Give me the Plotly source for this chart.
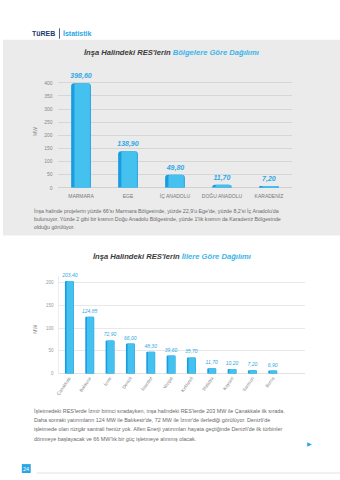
import plotly.graph_objects as go

# ---- data ----
regions = ["MARMARA", "EGE", "İÇ ANADOLU", "DOĞU ANADOLU", "KARADENİZ"]
region_mw = [398.60, 138.90, 49.80, 11.70, 7.20]
region_ticks = [0, 50, 100, 150, 200, 250, 300, 350, 400]

provinces = ["Çanakkale", "Balıkesir", "İzmir", "Denizli", "İstanbul", "Yozgat",
             "Kırklareli", "Malatya", "Kayseri", "Samsun", "Bursa"]
province_mw = [203.40, 124.85, 72.90, 66.00, 48.30, 39.60, 35.70, 11.70, 10.20, 7.20, 6.90]
province_ticks = [0, 50, 100, 150, 200]

W, H = 340, 480
def px(x): return x / W
def py(y): return 1 - y / H

FONT = "Liberation Sans"
BLUE_DARK = "#1a9de0"
BLUE_LIGHT = "#45c1f0"
LABEL_BLUE = "#2fa8e4"
GRAY_TXT = "#8a8a8a"

def fmt(v):
    return f"{v:.2f}".replace(".", ",")

fig = go.Figure()

# chart 1 bars (dark base + lighter face)
fig.add_trace(go.Bar(
    x=regions, y=region_mw, xaxis="x", yaxis="y",
    width=0.42, offset=-0.21,
    marker=dict(color=BLUE_DARK, cornerradius=3, line=dict(width=0)),
    text=[fmt(v) for v in region_mw], textposition="outside",
    texttemplate="<i><b>%{text}</b></i>", constraintext="none",
    textfont=dict(color=LABEL_BLUE, size=7, family=FONT),
    cliponaxis=False, showlegend=False, hoverinfo="skip"))
fig.add_trace(go.Bar(
    x=regions, y=region_mw, xaxis="x", yaxis="y",
    width=0.33, offset=-0.14,
    marker=dict(color=BLUE_LIGHT, cornerradius=2, line=dict(width=0)),
    showlegend=False, hoverinfo="skip"))

# chart 2 bars
fig.add_trace(go.Bar(
    x=provinces, y=province_mw, xaxis="x2", yaxis="y2",
    width=0.44, offset=-0.22,
    marker=dict(color=BLUE_DARK, cornerradius=1, line=dict(width=0)),
    text=[fmt(v) for v in province_mw], textposition="outside",
    texttemplate="<i>%{text}</i>", constraintext="none",
    textfont=dict(color=LABEL_BLUE, size=5, family=FONT),
    cliponaxis=False, showlegend=False, hoverinfo="skip"))
fig.add_trace(go.Bar(
    x=provinces, y=province_mw, xaxis="x2", yaxis="y2",
    width=0.34, offset=-0.14,
    marker=dict(color=BLUE_LIGHT, cornerradius=1, line=dict(width=0)),
    showlegend=False, hoverinfo="skip"))

fig.update_layout(
    width=W, height=H,
    margin=dict(l=0, r=0, t=0, b=0),
    paper_bgcolor="white", plot_bgcolor="rgba(0,0,0,0)",
    barmode="overlay",
    font=dict(family=FONT, color=GRAY_TXT, size=5),
    xaxis=dict(domain=[px(55), px(292)], anchor="y", showgrid=False,
               showline=False, ticks="", tickfont=dict(size=5, color="#777"),
               ticklabelstandoff=4, fixedrange=True),
    yaxis=dict(domain=[py(189), py(75.4)], anchor="x", range=[0, 430],
               tickvals=region_ticks, showgrid=True, gridcolor="#d6d6d6",
               gridwidth=0.6, zeroline=True, zerolinecolor="#d0d0d0", zerolinewidth=0.6,
               showline=False, ticks="", tickfont=dict(size=5, color="#888"),
               ticklabelstandoff=4, fixedrange=True),
    xaxis2=dict(domain=[px(56.75), px(305)], anchor="y2", range=[-0.5, 11.6],
                showgrid=False, showline=False, ticks="", tickangle=-55,
                tickfont=dict(size=4.5, color="#888"), fixedrange=True),
    yaxis2=dict(domain=[py(376), py(277.4)], anchor="x2", range=[0, 215],
                tickvals=province_ticks, showgrid=True, gridcolor="#e8e8e8",
                gridwidth=0.6, zeroline=True, zerolinecolor="#e2e2e2", zerolinewidth=0.6,
                showline=True, linecolor="#ececec", linewidth=0.6,
                ticks="", tickfont=dict(size=4.5, color="#999"),
                ticklabelstandoff=4, fixedrange=True),
)

shapes = [
    # gray panel
    dict(type="rect", xref="paper", yref="paper", x0=0, x1=1, y0=py(237), y1=py(40),
         fillcolor="#ebebeb", line=dict(width=0), layer="below"),
    # header separator
    dict(type="line", xref="paper", yref="paper", x0=px(57), x1=px(57), y0=py(28.5), y1=py(39),
         line=dict(color="#1a3a6e", width=0.8)),
    # footer page box
    dict(type="rect", xref="paper", yref="paper", x0=px(19), x1=px(28), y0=py(476), y1=py(467),
         fillcolor="#2ba6e3", line=dict(width=0)),
    # footer line
    dict(type="line", xref="paper", yref="paper", x0=px(34), x1=1, y0=py(476), y1=py(476),
         line=dict(color="#dcdcdc", width=0.8)),
]
fig.update_layout(shapes=shapes)

ann = []
def A(x, y, text, size=6, color=GRAY_TXT, xanchor="left", angle=0, family=FONT):
    ann.append(dict(xref="paper", yref="paper", x=px(x), y=py(y), text=text,
                    showarrow=False, xanchor=xanchor, yanchor="middle",
                    textangle=angle, font=dict(size=size, color=color, family=family)))

# header
A(54, 34, "<b>TüREB</b>", size=7, color="#1a3a6e", xanchor="right")
A(59, 34, "<b>İstatistik</b>", size=7, color="#2ba6e3")

# titles
A(170, 53, "<b><i>İnşa Halindeki RES'lerin <span style='color:#3bb4e8'>Bölgelere Göre Dağılımı</span></i></b>",
  size=7.6, color="#3a3a3a", xanchor="center")
A(170, 258, "<b><i>İnşa Halindeki RES'lerin <span style='color:#3bb4e8'>İllere Göre Dağılımı</span></i></b>",
  size=7.6, color="#3a3a3a", xanchor="center")

# MW axis titles
A(32, 132, "MW", size=5, color="#888", xanchor="center", angle=-90)
A(32, 331, "MW", size=5, color="#888", xanchor="center", angle=-90)

# paragraph 1
p1 = ["İnşa halinde projelerin yüzde 66'sı Marmara Bölgesinde, yüzde 22,9'u Ege'de, yüzde 8,2'si İç Anadolu'da",
      "bulunuyor. Yüzde 2 gibi bir kısmın Doğu Anadolu Bölgesinde, yüzde 1'lik kısmın da Karadeniz Bölgesinde",
      "olduğu görülüyor."]
for i, line in enumerate(p1):
    A(29, 212.7 + i * 8, line, size=5.3, color="#6a6a6a")

# paragraph 2
p2 = ["İşletmedeki RES'lerde İzmir birinci sıradayken, inşa halindeki RES'lerde 203 MW ile Çanakkale ilk sırada.",
      "Daha sonraki yatırımların 124 MW ile Balıkesir'de, 72 MW ile İzmir'de ilerlediği görülüyor. Denizli'de",
      "işletmede olan rüzgâr santrali henüz yok. Alfen Enerji yatırımları hayata geçtiğinde Denizli'de ilk türbinler",
      "dönmeye başlayacak ve 66 MW'lık bir güç işletmeye alınmış olacak."]
for i, line in enumerate(p2):
    A(29, 414 + i * 9.1, line, size=5.4, color="#6a6a6a")

A(309, 446.5, "▶", size=6, color="#2ba6e3", xanchor="center")
A(23.5, 471.5, "24", size=5.5, color="white", xanchor="center")

fig.update_layout(annotations=ann)

fig.write_html("out.html")
